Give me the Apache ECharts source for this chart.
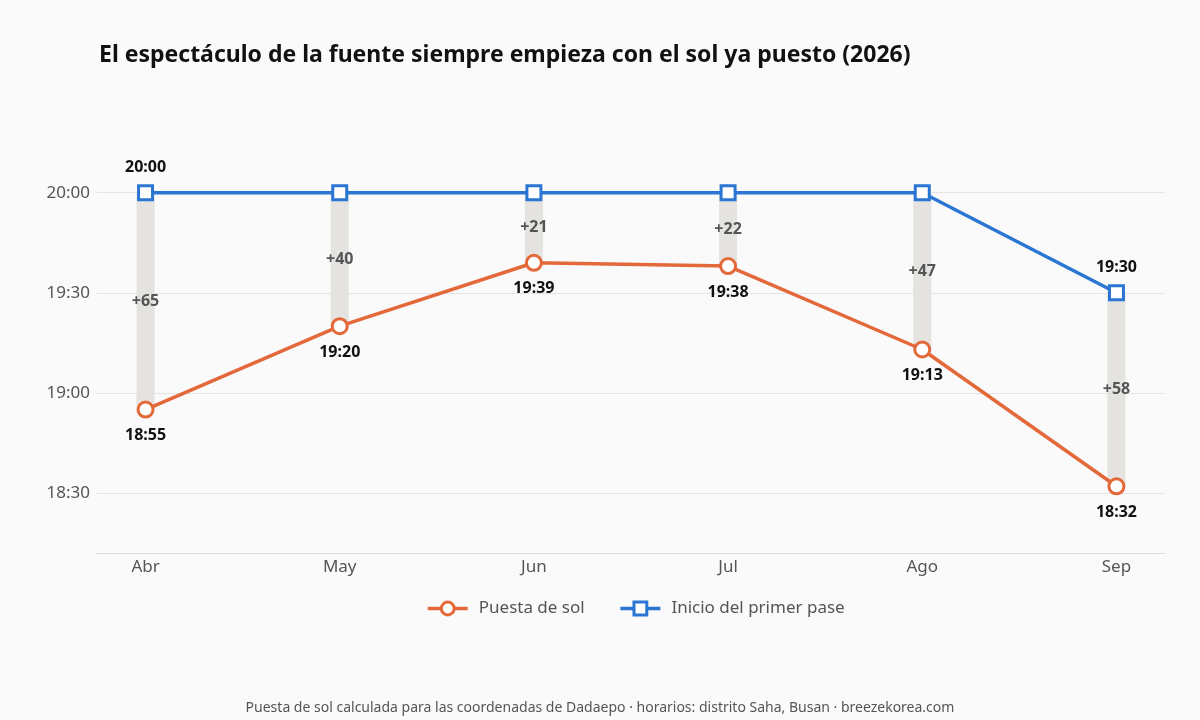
<!DOCTYPE html>
<html><head><meta charset="utf-8">
<script src="https://cdn.jsdelivr.net/npm/echarts@6/dist/echarts.min.js"></script>
<style>html,body{margin:0;padding:0;background:#fafafa}#c{width:1200px;height:720px}</style>
</head><body><div id="c"></div>
<script>
const categories = ['Abr','May','Jun','Jul','Ago','Sep'];
const sunset = [1135, 1160, 1179, 1178, 1153, 1112];   // minutes since midnight
const showStart = [1200, 1200, 1200, 1200, 1200, 1170];
const showStartLabel = [true, false, false, false, false, true];
const yTicks = [1110, 1140, 1170, 1200];
const xTicks = [0, 1, 2, 3, 4, 5];

const fmt = m => { const h = Math.floor(m/60), mm = Math.round(m - h*60); return h + ':' + String(mm).padStart(2,'0'); };
const FONT = '"Noto Sans", "Open Sans", sans-serif';

const chart = echarts.init(document.getElementById('c'));
chart.setOption({
  backgroundColor: '#fafafa',
  textStyle: { fontFamily: FONT },
  title: [{
    text: 'El espectáculo de la fuente siempre empieza con el sol ya puesto (2026)',
    left: 94, top: 39,
    textStyle: { fontSize: 23, fontWeight: 'bold', color: '#111', fontFamily: FONT }
  }, {
    text: 'Puesta de sol calculada para las coordenadas de Dadaepo · horarios: distrito Saha, Busan · breezekorea.com',
    left: 'center', top: 696,
    textStyle: { fontSize: 14, fontWeight: 'normal', color: '#555', fontFamily: FONT }
  }],
  legend: {
    bottom: 98, left: 421, itemWidth: 40, itemHeight: 16, itemGap: 34,
    data: ['Puesta de sol', 'Inicio del primer pase'],
    lineStyle: { width: 3.5 },
    itemStyle: { borderWidth: 3 },
    textStyle: { fontSize: 17, color: '#555', fontFamily: FONT, padding: [0, 0, 0, 6] }
  },
  grid: { left: 97, right: 35, top: 126, bottom: 167 },
  xAxis: {
    type: 'value', min: -0.25, max: 5.25,
    axisLine: { show: true, lineStyle: { color: '#dddddd' } },
    axisTick: { show: false, customValues: xTicks },
    splitLine: { show: false },
    axisLabel: { customValues: xTicks, formatter: v => categories[Math.round(v)], fontSize: 17, color: '#555', margin: 6, fontFamily: FONT }
  },
  yAxis: {
    type: 'value', min: 1092, max: 1220,
    axisLine: { show: false },
    axisTick: { show: false, customValues: yTicks },
    splitLine: { show: true, lineStyle: { color: '#e4e4e4' } },
    axisLabel: { customValues: yTicks, formatter: v => fmt(v), fontSize: 17, color: '#555', margin: 7, fontFamily: FONT }
  },
  series: [{
    name: 'gap', type: 'custom', silent: true, z: 1,
    data: sunset.map((v,i) => [i, v, showStart[i]]),
    encode: { x: 0, y: [1, 2] },
    renderItem: (params, api) => {
      const i = api.value(0);
      const lo = api.coord([i, api.value(1)]);
      const hi = api.coord([i, api.value(2)]);
      const w = 18;
      return {
        type: 'group',
        children: [{
          type: 'rect',
          shape: { x: lo[0] - w/2, y: hi[1], width: w, height: lo[1] - hi[1] },
          style: { fill: '#e4e3e0' }
        }, {
          type: 'text',
          x: lo[0], y: (lo[1] + hi[1]) / 2,
          style: { text: '+' + (api.value(2) - api.value(1)), align: 'center', verticalAlign: 'middle',
                   fontSize: 16, fontWeight: 'bold', fill: '#555', fontFamily: FONT },
          z2: 5
        }]
      };
    }
  }, {
    name: 'Puesta de sol', type: 'line', symbol: 'circle', symbolSize: 15,
    lineStyle: { width: 3.5, color: '#e4693a' },
    itemStyle: { color: '#fff', borderColor: '#e4693a', borderWidth: 3 },
    label: { show: true, position: 'bottom', distance: 9, formatter: p => fmt(p.value[1]), fontSize: 16, fontWeight: 'bold', color: '#111', fontFamily: FONT },
    data: sunset.map((v,i) => [i, v]), z: 3
  }, {
    name: 'Inicio del primer pase', type: 'line', symbol: 'rect', symbolSize: 14,
    lineStyle: { width: 3.5, color: '#2b76d2' },
    itemStyle: { color: '#fff', borderColor: '#2b76d2', borderWidth: 3 },
    label: { show: true, position: 'top', distance: 9, formatter: p => showStartLabel[p.dataIndex] ? fmt(p.value[1]) : '', fontSize: 16, fontWeight: 'bold', color: '#111', fontFamily: FONT },
    data: showStart.map((v,i) => [i, v]), z: 4
  }]
});
</script></body></html>
